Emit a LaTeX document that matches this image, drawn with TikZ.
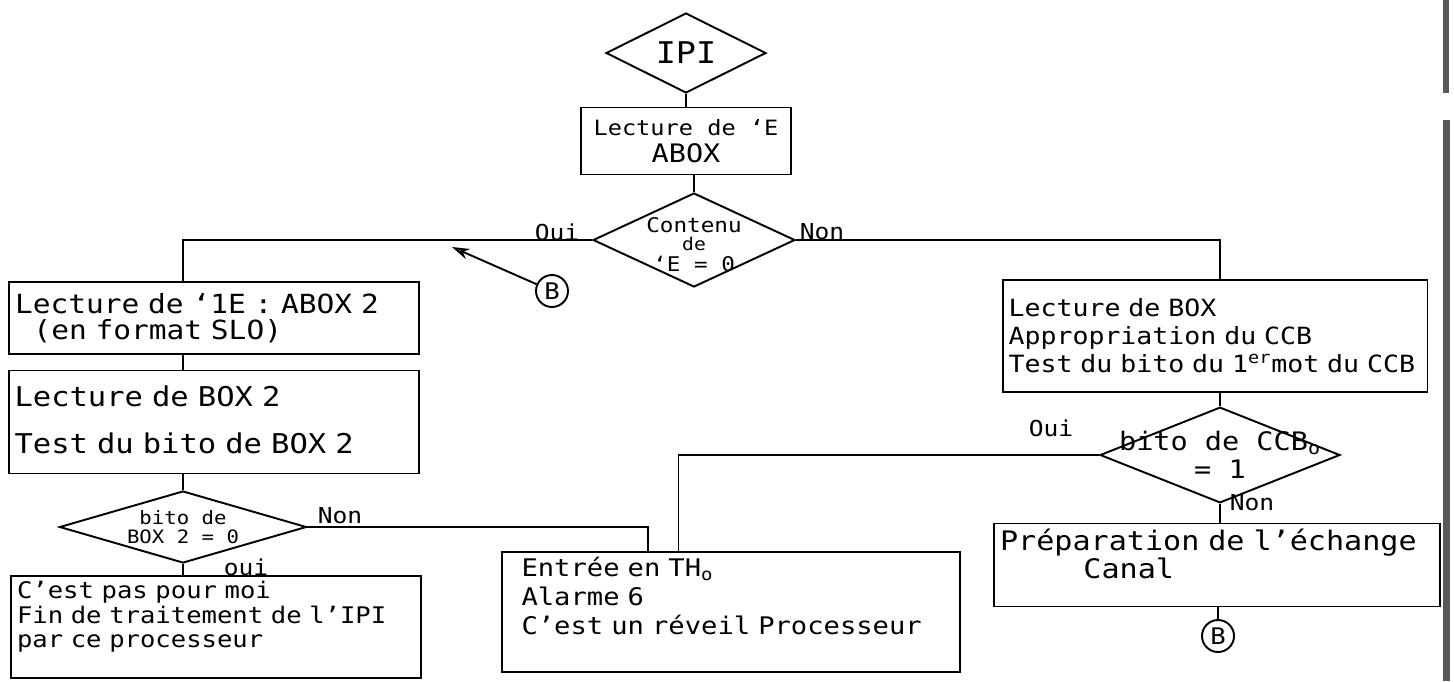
\documentclass[tikz,border=0pt]{standalone}
\usepackage{fontspec}
\setmainfont{DejaVu Sans Mono}[FakeStretch=1.12]
\usepackage{tikz}
\usetikzlibrary{arrows.meta,positioning,shapes.geometric,calc}
\tikzset{
  caja/.style={
    draw,
    rectangle,
    line width=1.1pt,
    align=left,
    inner sep=3pt,
    font=\fontsize{14}{16}\selectfont
  },
  rombo/.style={
    diamond,
    draw,
    line width=1.1pt,
    aspect=2,
    inner sep=-10pt,
    align=center,
    font=\fontsize{10.5}{11}\selectfont
  },
  renvoi/.style={
    circle,
    draw,
    line width=1.1pt,
    minimum size=0.64cm,
    inner sep=0pt,
    font=\fontsize{13}{13}\selectfont
  },
  etiq/.style={font=\fontsize{12.5}{12}\selectfont},
  trait/.style={line width=1.1pt},
  flecha/.style={-{Stealth[length=3.5mm,width=2.2mm,fill=black!55]},line width=1.1pt}
}

\begin{document}
\begin{tikzpicture}[x=0.02cm,y=-0.02cm]
\useasboundingbox (0,0) rectangle (1454,681);

% Bord de la page
\fill[black!65] (1443,0) rectangle (1449,93);
\fill[black!65] (1443,120) rectangle (1450,681);

% Colonne centrale
\node[rombo, minimum width=3.2cm, minimum height=1.6cm,
  font=\fontsize{17}{17}\selectfont] (ipi) at (686,53) {IPI};
\node[caja, minimum width=4.2cm, minimum height=1.34cm, align=center,
  font=\fontsize{12}{15}\selectfont] (lectE) at (686,141)
  {Lecture de ‘E\\{\fontsize{14.5}{15}\selectfont ABOX}};
\node[rombo, minimum width=4.04cm, minimum height=1.88cm,
  font=\fontsize{11.5}{11}\selectfont] (contenu) at (694,240)
  {\rule{0pt}{14pt}Contenu\\[-1pt]{\fontsize{10}{10}\selectfont de}\\[1pt]‘E = 0};

% Branche Oui (gauche)
\node[caja, minimum width=8.2cm, minimum height=1.44cm, text width=7.96cm,
  font=\fontsize{15}{14.5}\selectfont] (boxA) at (214,318)
  {Lecture de ‘1E : ABOX 2\\\hspace{0.7em}(en format SLO)};
\node[caja, minimum width=8.22cm, minimum height=2.06cm, text width=7.98cm,
  font=\fontsize{15.5}{14.5}\selectfont] (boxB) at (214,422)
  {Lecture de BOX 2\\[12pt]Test du bito de BOX 2\\[-12pt]\mbox{}};
\node[rombo, minimum width=4.94cm, minimum height=1.44cm] (diaC) at (183,527)
  {bito de\\BOX 2 = 0};
\node[caja, minimum width=8.2cm, minimum height=2.02cm, text width=7.96cm,
  font=\fontsize{13}{14}\selectfont] (boxD) at (216,627)
  {C'est pas pour moi\\Fin de traitement de l'IPI\\par ce processeur\\\mbox{}};

% Branche Non (droite)
\node[caja, minimum width=8.5cm, minimum height=2.24cm, text width=8.26cm,
  font=\fontsize{13.5}{16}\selectfont] (boxF) at (1215,336)
  {Lecture de BOX\\Appropriation du CCB\\Test du bito du 1\textsuperscript{er}mot du CCB};
\node[rombo, minimum width=4.8cm, minimum height=1.6cm,
  font=\fontsize{14.5}{16}\selectfont] (diaG) at (1220,455)
  {bito de CCB\textsubscript{o}\\= 1};
\node[caja, minimum width=8.92cm, minimum height=1.6cm, text width=8.68cm,
  font=\fontsize{15.3}{13}\selectfont] (boxH) at (1217,565)
  {Préparation de l'échange\\\hspace{3.1em}Canal\\\mbox{}};
\node[caja, minimum width=9.18cm, minimum height=2.3cm, text width=8.38cm,
  inner xsep=0.4cm, font=\fontsize{13.8}{16.5}\selectfont] (boxE) at (731,612)
  {Entrée en TH\textsubscript{o}\\Alarme 6\\C'est un réveil Processeur\\[2pt]\mbox{}};

% Renvois B
\node[renvoi] (renvoiG) at (552,291) {B};
\node[renvoi] (renvoiD) at (1218,636) {B};

% Etiquettes
\node[etiq] at (557,232) {Oui};
\node[etiq] at (822,232) {Non};
\node[etiq] at (340,516) {Non};
\node[etiq] at (246,567) {oui};
\node[etiq] at (1051,428) {Oui};
\node[etiq] at (1252,503) {Non};

% Points d'arrivée
\coordinate (bJonction) at (452,247);
\coordinate (eNon) at ($(boxE.north west)!0.32!(boxE.north east)$);
\coordinate (eOui) at ($(boxE.north west)!0.386!(boxE.north east)$);

% Liaisons
\draw[trait] (ipi.south) -- (lectE.north);
\draw[trait] (lectE.south -| contenu.north) -- (contenu.north);
\draw[trait] (contenu.west) -| (boxA.north -| diaC.north);
\draw[trait] (contenu.east) -| (boxF.north -| diaG.north);
\draw[trait] (boxA.south -| diaC.north) -- (boxB.north -| diaC.north);
\draw[trait] (boxB.south -| diaC.north) -- (diaC.north);
\draw[trait] (diaC.south) -- (boxD.north -| diaC.south);
\draw[trait] (diaC.east) -| (eNon);
\draw[trait] (boxF.south -| diaG.north) -- (diaG.north);
\draw[trait] (diaG.west) -| (eOui);
\draw[trait] (diaG.south) -- (boxH.north -| diaG.south);
\draw[trait] (boxH.south -| renvoiD.north) -- (renvoiD.north);
\draw[flecha] (renvoiG) -- (bJonction);

\end{tikzpicture}
\end{document}
